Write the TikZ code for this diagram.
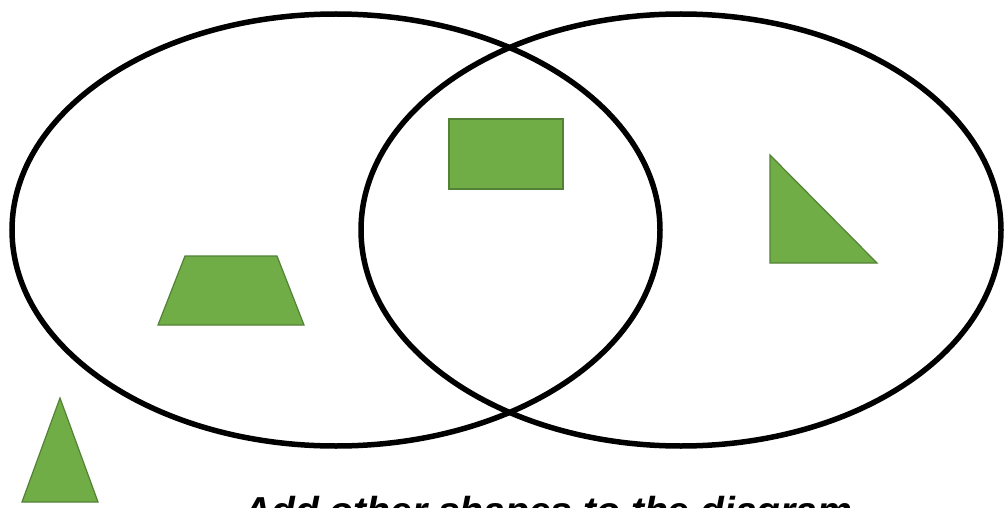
\documentclass[tikz,border=0pt]{standalone}
\usepackage{fontspec}
\setmainfont{Liberation Sans}
\usetikzlibrary{shapes.geometric}
\definecolor{shapegreen}{HTML}{70AD47}
\definecolor{shapeedge}{HTML}{548235}
\tikzset{
  setring/.style={draw=black, line width=5.5pt, ellipse, inner sep=0pt},
  greenshape/.style={fill=shapegreen, draw=shapeedge, line width=1.2pt, line join=miter},
}
\begin{document}
\begin{tikzpicture}[x=1pt,y=-1pt]
\useasboundingbox (0,0) rectangle (1007,508);
\clip (0,0) rectangle (1007,508);
\fill[white] (0,0) rectangle (1007,508);
% sets
\node[setring, minimum width=648pt, minimum height=432pt] (left) at (336,230) {};
\node[setring, minimum width=640pt, minimum height=432pt] (right) at (681,230) {};
% shapes
\node[greenshape, rectangle, minimum width=114pt, minimum height=70pt, inner sep=0pt] (rect) at (506,154) {};
\draw[greenshape] (185,256) coordinate (tp1) -- (277,256) coordinate (tp2) -- (304,325) coordinate (tp3) -- (158,325) coordinate (tp4) -- cycle;
\draw[greenshape] (770,155) coordinate (rt1) -- (877,263) coordinate (rt2) -- (770,263) coordinate (rt3) -- cycle;
\draw[greenshape] (60,398) coordinate (tt1) -- (98,502) coordinate (tt2) -- (22,502) coordinate (tt3) -- cycle;
% caption
\node[anchor=base west, inner sep=0pt, font=\fontsize{39pt}{44pt}\selectfont\bfseries\itshape] (caption) at (243,524) {Add other shapes to the diagram};
\end{tikzpicture}
\end{document}
